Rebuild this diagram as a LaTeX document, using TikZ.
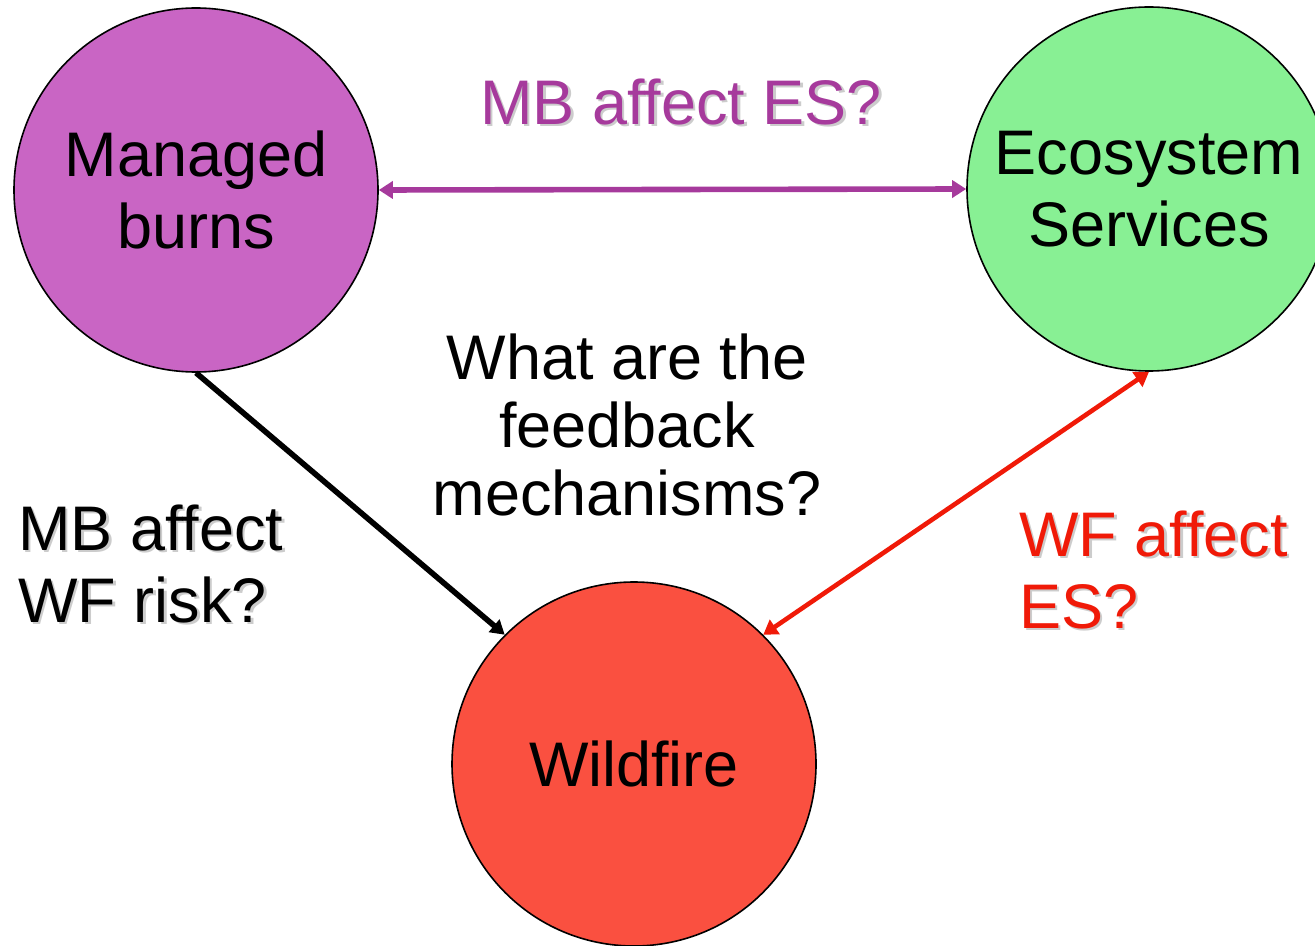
\documentclass[tikz,border=0pt]{standalone}
\usepackage{fontspec}
\setmainfont{Liberation Sans}
\usepackage{xcolor}
\usetikzlibrary{positioning, arrows.meta}

\definecolor{mbfill}{RGB}{201,101,196}
\definecolor{esfill}{RGB}{136,240,148}
\definecolor{wffill}{RGB}{250,80,64}
\definecolor{mbpurple}{RGB}{166,58,156}
\definecolor{wfred}{RGB}{240,26,8}

\begin{document}
\begin{tikzpicture}[
    x=0.5pt, y=-0.5pt,
    every node/.style={font=\fontsize{31.5}{36}\selectfont},
    topic/.style={circle, draw, line width=0.8pt, fill=#1, minimum size=182pt, align=center, inner sep=0pt},
    lbl/.style={align=#1, inner sep=0pt},
    lbl/.default=center,
    shadow/.style={text=gray!40},
    arr/.style={line width=2.8pt, -{Triangle[length=7pt, width=8pt]}},
    biarr/.style={line width=2.8pt, {Triangle[length=7pt, width=8.5pt]}-{Triangle[length=7pt, width=8.5pt]}},
]
    \clip (0,0) rectangle (1315,946);

    % --- circles ---
    \node[topic=mbfill] (mb) at (196,190) {Managed\\burns};
    \node[topic=esfill] (es) at (1149,189) {Ecosystem\\Services};
    \node[topic=wffill] (wf) at (634,764) {Wildfire};

    % --- question in the middle ---
    \node[lbl, font=\fontsize{31.5}{34}\selectfont] (fb) at (627,425) {What are the\\feedback\\mechanisms?};

    % --- labels of the links (grey copy first, as drop shadow) ---
    \node[lbl, shadow] at (683.5,104.5) {MB affect ES?};
    \node[lbl, text=mbpurple] (mbes) at (681,102) {MB affect ES?};

    \node[lbl=left, shadow, anchor=west] at (20.5,566.5) {MB affect\\WF risk?};
    \node[lbl=left, anchor=west] (mbwf) at (18,564) {MB affect\\WF risk?};

    \node[lbl=left, shadow, anchor=west] at (1021.5,572.5) {WF affect\\ES?};
    \node[lbl=left, text=wfred, anchor=west] (wfes) at (1019,570) {WF affect\\ES?};

    % --- arrows ---
    \draw[biarr, mbpurple] (mb.east) -- (es.west);
    \draw[arr] (mb.south) -- (wf.135);
    \draw[biarr, wfred, line width=2.3pt] (wf.45) -- (es.south);
\end{tikzpicture}
\end{document}
